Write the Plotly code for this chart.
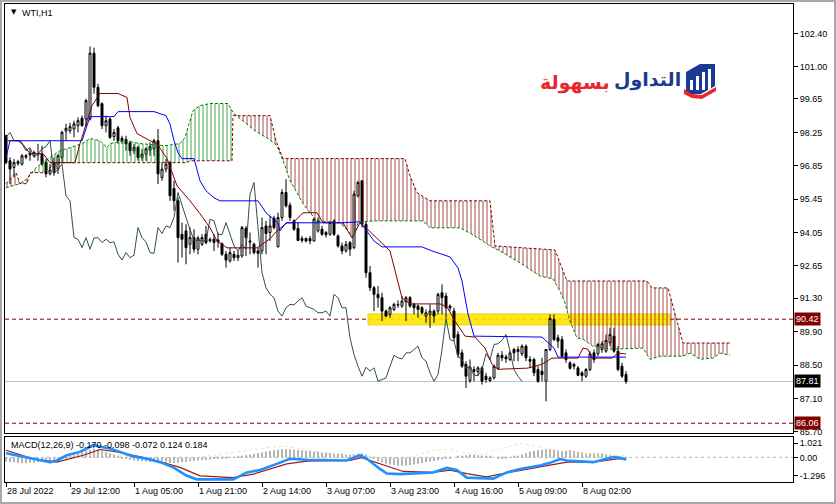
import plotly.graph_objects as go

# ---------------- data ----------------
bar_open = [98.11,97.06,96.78,96.95,96.92,97.27,97.30,97.27,97.34,97.34,96.99,96.51,96.99,96.71,97.20,98.30,98.32,98.39,98.53,98.84,
            98.81,98.81,101.57,100.14,99.45,98.53,98.81,98.07,98.44,98.00,97.95,97.81,97.48,97.62,97.20,97.34,97.51,97.56,97.90,96.36,
            96.71,96.99,95.90,95.38,93.98,94.12,93.56,93.84,93.35,93.56,93.98,93.70,93.77,93.74,93.59,93.14,92.86,93.14,93.00,93.07,
            94.22,93.70,93.56,93.28,93.28,94.33,94.05,94.65,93.46,94.68,95.73,95.20,94.54,94.22,93.80,93.80,93.80,93.70,94.12,94.19,
            94.05,93.98,94.54,93.91,93.49,93.28,93.63,93.42,95.59,96.22,94.40,92.37,91.74,91.46,91.32,90.76,90.62,90.83,91.04,90.97,
            91.15,91.32,91.04,90.97,90.90,90.55,90.62,90.76,90.76,91.53,91.39,90.97,90.76,89.78,89.01,88.52,87.85,88.31,88.22,88.38,
            88.03,87.85,87.96,88.36,88.91,88.84,88.73,89.15,89.06,88.97,89.29,88.73,88.73,88.31,88.24,87.82,89.15,90.41,89.64,89.57,
            89.01,88.59,88.52,88.38,88.17,88.03,88.31,89.01,88.97,89.15,89.08,89.43,89.71,89.08,88.45,88.10]
bar_high = [98.15,97.20,97.13,97.10,97.34,97.34,97.56,97.48,97.77,97.69,97.13,96.92,97.20,97.34,98.32,98.61,98.65,98.74,98.88,98.95,
            99.66,101.85,101.80,100.29,99.51,98.95,98.88,98.39,98.53,98.11,98.11,97.90,97.77,97.69,97.56,97.62,97.83,97.98,98.39,96.99,
            97.13,97.06,96.22,95.52,94.47,94.40,94.26,94.19,93.91,93.98,94.33,93.84,93.98,94.05,93.63,93.28,93.42,93.28,93.28,94.33,
            94.33,94.05,93.63,93.42,94.68,94.54,94.75,94.75,94.89,95.87,96.29,95.31,94.61,94.47,93.91,93.84,93.91,94.68,94.68,94.33,
            94.12,94.54,94.61,93.98,93.63,93.70,93.70,95.80,96.22,96.25,94.54,92.65,91.81,91.81,91.53,90.83,90.97,91.11,91.21,91.39,
            91.39,91.39,91.11,91.04,90.97,90.83,91.04,90.83,91.53,91.88,91.53,91.04,90.90,89.92,89.15,88.66,88.73,88.45,88.45,88.45,
            88.17,88.03,88.52,89.01,89.08,88.94,89.08,89.22,89.29,89.36,89.36,88.87,88.80,88.45,88.80,89.15,90.62,90.62,89.78,89.71,
            89.15,88.66,88.59,88.45,88.24,88.38,89.08,89.15,89.43,89.50,89.78,90.06,90.06,89.29,88.59,88.24]
bar_low = [96.92,96.08,96.36,96.85,96.85,97.13,97.06,97.20,97.06,96.85,96.36,96.45,96.43,96.51,96.95,97.90,98.20,98.04,98.25,98.49,
           98.49,98.75,99.87,99.30,98.39,98.25,97.98,97.90,97.77,97.77,97.48,97.27,97.34,97.06,97.06,97.06,97.27,97.27,96.08,96.22,
           96.57,95.38,94.96,92.79,93.00,92.72,93.14,93.21,93.14,93.49,93.56,93.63,93.28,93.42,93.07,92.58,92.79,92.86,92.86,93.00,
           93.07,93.14,93.14,92.58,93.14,93.14,93.70,94.19,93.42,94.54,95.10,94.54,94.12,93.70,93.63,93.63,93.56,93.67,94.05,93.91,
           93.84,93.91,93.91,93.42,93.14,93.21,93.07,93.35,95.52,94.26,92.16,91.60,90.76,90.90,90.34,90.50,90.48,90.76,90.90,90.90,
           90.34,90.90,90.62,90.48,90.62,90.27,90.06,90.27,90.62,90.62,90.48,90.76,89.50,88.80,88.38,87.54,87.75,87.82,88.03,87.68,
           87.75,87.78,87.89,88.31,88.66,88.59,88.66,88.66,88.66,88.87,88.66,88.38,88.03,87.75,87.82,86.98,89.08,89.50,89.22,88.80,
           88.59,88.31,88.31,88.03,87.82,87.96,88.24,88.59,88.87,89.01,89.01,89.29,89.01,88.24,87.96,87.71]
bar_close = [96.99,96.71,96.99,97.02,97.27,97.22,97.37,97.41,97.32,96.92,96.51,96.67,96.57,97.27,98.25,98.42,98.49,98.61,98.74,98.53,
             99.58,101.57,100.14,99.37,98.53,98.74,98.04,98.25,97.90,97.90,97.77,97.48,97.62,97.20,97.34,97.56,97.65,97.90,96.51,96.71,
             96.92,95.59,95.38,93.84,93.77,93.42,93.84,93.35,93.82,93.84,93.63,93.77,93.63,93.66,93.14,92.90,93.21,93.00,93.10,94.26,
             93.84,93.66,93.21,93.18,94.26,94.01,94.33,94.26,94.68,95.73,95.17,94.68,94.19,93.72,93.72,93.70,93.70,94.61,94.54,93.98,
             93.96,94.47,93.98,93.49,93.28,93.56,93.35,95.66,96.15,94.40,92.37,91.74,91.46,91.32,90.76,90.55,90.90,91.04,91.02,91.18,
             91.32,90.97,90.90,90.83,90.69,90.69,90.76,90.55,91.46,91.32,90.90,90.90,89.64,88.94,88.45,88.03,88.41,88.24,88.38,87.82,
             87.89,87.96,88.45,88.91,88.80,88.76,89.01,89.01,89.15,89.29,88.80,88.66,88.17,87.82,88.10,89.15,90.45,89.57,89.50,88.87,
             88.73,88.36,88.45,88.07,88.06,88.31,88.97,88.73,89.36,89.39,89.53,89.78,89.08,88.31,88.03,87.81]

tenkan_x = [0,3.5,6,9.25,11,17.25,18.5,21.5,23.5,28,30.25,31,32.75,36,37.75,40.25,42.75,46,48.5,51,52.75,55.25,62.75,66,67.75,
            70.25,71.75,74.25,77.75,79.25,84.25,86.5,88.5,90.25,96,99,101,108.5,110.25,112.25,114.75,117.25,119.75,121.5,123,130.5,
            134,136.5,143,144.25,145.5,146.5,151.5,153,155]
tenkan_y = [97.90,97.90,97.36,97.36,96.98,96.98,97.78,99.37,99.88,99.88,99.71,98.87,98.20,97.90,97.78,97.15,96.01,95.38,94.84,94.25,
            93.70,93.41,93.41,93.79,94.12,94.46,94.46,94.88,94.88,94.46,94.46,93.83,94.46,94.21,93.28,91.31,91.06,91.06,90.93,90.34,
            89.71,89.67,89.21,88.53,88.32,88.37,88.53,88.79,88.79,89.21,89.16,88.79,88.79,89.00,88.96]
kijun_x = [0,1,19,21,27,28,37,40,41,42,43,44,47,48.5,50,52,53.5,63,65,68,68.5,70,84,88.5,92,94,104,106.5,111,113,114,115.5,117,
           134,137,138,155]
kijun_y = [97.19,97.90,97.90,98.91,98.91,99.12,99.12,98.95,98.60,97.90,97.40,97.15,97.15,96.22,95.80,95.51,95.38,95.38,94.88,94.46,
           94.12,94.46,94.46,94.50,93.70,93.45,93.45,93.28,93.03,92.57,92.02,90.64,89.71,89.67,89.21,88.83,88.83]
spanA_x = [0,3.5,5.25,7.25,9.75,13.5,16,19,21,23.5,25.25,26,29.75,33.5,39.75,43.5,44.75,46.75,48.5,51,55.5,56.75,58.5,62.25,65.5,
           67.75,69.75,71,72.75,74.25,76,77.75,83.5,85.5,86.75,88,91.75,104.25,106,113.5,117.25,121,123.5,128.5,133.5,136.75,138.5,
           139.75,141,142.75,144.25,146.75,151,159.25,161,163.5,169.25,171,173.5,176.75,178.5,181]
spanA_y = [95.93,96.10,96.31,96.73,97.06,97.48,97.61,97.78,97.99,97.90,97.61,97.78,97.90,97.78,97.69,97.78,98.03,99.16,99.37,99.46,
           99.46,99.08,98.83,98.32,97.99,97.69,96.85,96.22,95.72,95.26,94.88,94.54,94.46,94.12,93.83,94.46,94.54,94.54,94.25,94.25,
           93.91,93.49,93.28,92.78,92.23,92.11,91.60,91.10,90.34,89.63,89.58,89.29,89.16,89.21,88.74,88.87,88.87,89.00,88.74,88.79,
           89.00,88.91]
spanB_x = [0,2.5,3.5,5.25,6,9.25,11,13.5,45.25,46,56.5,56.75,66,67.5,69.25,99.75,101,102.75,104.75,106,121,122.25,137.25,138.5,
           140.25,160.25,161.5,165.5,167.75,169.25,181]
spanB_y = [96.10,96.56,96.10,96.10,96.56,96.56,96.77,96.98,96.98,97.06,97.06,98.95,98.95,97.90,97.15,97.15,96.43,95.72,95.51,95.38,
           95.38,93.49,93.32,92.74,92.02,92.02,91.73,91.73,90.34,89.42,89.42]
cloud_breaks = [0, 5.25, 56.75, 181]
cloud_bullish = [False, True, False]
chikou_shift = 26

macd_x = [0,3.5,6.8,11,12.7,15.2,18.5,20.2,21.8,23.5,26,28.5,31.8,35.2,38.5,41.8,45.2,47.7,56.8,60.2,63.5,67.7,71,75.2,81.8,85.2,
          88.5,90.2,93.5,95.2,98.5,106.8,110.2,112.7,115.2,121.8,125.2,128.5,133.5,136,138.5,140.2,146.8,150.2,151.8,153.5,155]
macd_y = [0.29,0.07,-0.10,-0.34,-0.22,0.15,0.39,0.63,0.88,0.75,0.63,0.39,0.07,-0.10,-0.34,-0.71,-1.31,-1.56,-1.56,-1.07,-0.90,
          -0.46,-0.10,-0.17,-0.22,-0.22,0.15,-0.10,-0.82,-1.15,-1.19,-1.07,-0.75,-0.90,-1.44,-1.51,-1.07,-0.82,-0.58,-0.39,-0.12,
          -0.22,-0.34,-0.10,0.02,-0.02,-0.17]
signal_x = [0,6.8,12.7,19.3,23.5,27.7,36,43.5,48.5,56.8,61.8,70.2,75.2,86,88.9,93.5,99.3,106.8,111,115.2,120.2,123.5,131.8,134.3,
            140.2,146.8,152.7,155]
signal_y = [0.51,-0.10,-0.34,0.15,0.56,0.39,-0.10,-0.71,-1.31,-1.44,-1.19,-0.46,-0.27,-0.22,-0.02,-0.46,-1.00,-1.07,-0.90,-1.15,
            -1.39,-1.19,-0.75,-0.66,-0.34,-0.34,-0.10,-0.10]
extra_x = [0,12,24,32,40,50,57,63,69,74,80,90,98,107,111,115,119,124,129,134,139,145,150,155]
extra_y = [0.30,-0.35,0.30,0.05,-0.30,0.10,0.40,0.60,0.80,0.60,0.30,0.10,-0.20,0.50,0.60,0.30,0.20,0.65,1.00,0.70,0.40,0.20,0.20,0.12]
hist_y = [-0.30,-0.32,-0.35,-0.38,-0.40,-0.42,-0.40,-0.38,-0.35,-0.33,-0.30,-0.28,-0.25,-0.20,-0.12,-0.05,
          0.05,0.15,0.25,0.35,0.45,0.55,0.62,0.60,0.50,0.40,0.30,0.20,
          0.05,-0.05,-0.12,-0.18,-0.22,-0.25,-0.28,-0.30,-0.32,-0.33,-0.35,-0.36,-0.38,-0.40,-0.40,-0.38,-0.35,-0.32,
          -0.28,-0.25,-0.22,-0.20,-0.18,-0.15,-0.12,-0.10,-0.08,-0.05,-0.02,0.02,0.05,0.10,0.15,
          0.20,0.25,0.30,0.35,0.40,0.45,0.50,0.55,0.58,0.60,0.58,0.55,0.52,0.50,0.48,0.45,0.42,0.40,0.38,0.35,0.32,0.30,0.28,0.25,0.22,
          0.20,0.22,0.25,0.30,0.20,
          0.05,-0.10,-0.25,-0.35,-0.45,-0.50,-0.55,-0.58,-0.60,-0.58,-0.55,-0.50,-0.45,-0.40,-0.35,
          -0.30,-0.25,-0.20,-0.15,-0.10,-0.05,0.00,
          0.05,0.10,0.15,0.20,0.18,0.15,0.12,0.10,
          0.05,0.00,-0.05,-0.08,-0.05,0.00,0.05,0.10,
          0.20,0.30,0.40,0.45,0.50,0.55,0.58,0.60,0.55,0.50,0.45,0.48,0.50,
          0.45,0.40,0.35,0.30,0.28,0.30,0.32,0.28,0.22,
          0.15,0.10,0.05,-0.02,-0.07]

time_tick_bars = [0, 16, 32, 48, 64, 80, 96, 112, 128, 144]
time_tick_labels = ["28 Jul 2022", "29 Jul 12:00", "1 Aug 05:00", "1 Aug 21:00", "2 Aug 14:00",
                    "3 Aug 07:00", "3 Aug 23:00", "4 Aug 16:00", "5 Aug 09:00", "8 Aug 02:00"]
price_ticks = [102.40, 101.00, 99.65, 98.25, 96.85, 95.45, 94.05, 92.65, 91.30, 89.90, 88.50, 87.10, 85.70]
macd_ticks = [1.021, 0.0, -1.296]
macd_tick_labels = ["1.021", "0.00", "-1.296"]
level_upper = 90.42
level_lower = 86.06
last_price = 87.81
zone_start, zone_end = 90.5, 166
zone_low, zone_high = 90.18, 90.64
macd_title = "MACD(12,26,9) -0.170 -0.098 -0.072 0.124 0.184"
symbol_title = "WTI,H1"
logo_blue = "التداول"
logo_red = "بسهولة"

# ---------------- styling / geometry ----------------
W, H = 836, 504
ML, MR, MT, MB = 5, 43, 4, 22
PW, PH = W - ML - MR, H - MT - MB
MAROON = "#800000"
GREEN = "#008000"
FONT = "Liberation Sans"


def fx(px):
    return (px - ML) / PW


def fy(py):
    return (H - MB - py) / PH


main_dom = [fy(433), 1.0]
macd_dom = [0.0, fy(436.7)]
bars = list(range(len(bar_close)))

fig = go.Figure()

# Ichimoku cloud (hatched)
for k in range(len(cloud_bullish)):
    lo, hi = cloud_breaks[k], cloud_breaks[k + 1]
    ax = [x for x in spanA_x if lo <= x <= hi]
    ay = [y for x, y in zip(spanA_x, spanA_y) if lo <= x <= hi]
    bx = [x for x in spanB_x if lo <= x <= hi][::-1]
    by = [y for x, y in zip(spanB_x, spanB_y) if lo <= x <= hi][::-1]
    col = GREEN if cloud_bullish[k] else MAROON
    fig.add_trace(go.Scatter(
        x=ax + bx, y=ay + by, mode="none", fill="toself",
        fillcolor="rgba(0,0,0,0)",
        fillpattern=dict(shape="|", fgcolor=col, bgcolor="rgba(0,0,0,0)",
                         size=4, solidity=0.25, fgopacity=0.7),
        hoverinfo="skip", xaxis="x", yaxis="y"))

fig.add_trace(go.Scatter(x=spanA_x, y=spanA_y, mode="lines",
                         line=dict(color=GREEN, width=1, dash="3px,2px"),
                         hoverinfo="skip", xaxis="x", yaxis="y"))
fig.add_trace(go.Scatter(x=spanB_x, y=spanB_y, mode="lines",
                         line=dict(color=MAROON, width=1, dash="3px,2px"),
                         hoverinfo="skip", xaxis="x", yaxis="y"))

# candles
fig.add_trace(go.Candlestick(
    x=bars, open=bar_open, high=bar_high, low=bar_low, close=bar_close,
    increasing=dict(line=dict(color="black", width=1), fillcolor="white"),
    decreasing=dict(line=dict(color="black", width=1), fillcolor="black"),
    whiskerwidth=0, hoverinfo="skip", xaxis="x", yaxis="y"))

# chikou (close shifted back), tenkan, kijun
fig.add_trace(go.Scatter(x=bars[:-chikou_shift], y=bar_close[chikou_shift:], mode="lines",
                         line=dict(color="#2F4F4F", width=1), hoverinfo="skip", xaxis="x", yaxis="y"))
fig.add_trace(go.Scatter(x=tenkan_x, y=tenkan_y, mode="lines",
                         line=dict(color=MAROON, width=1), hoverinfo="skip", xaxis="x", yaxis="y"))
fig.add_trace(go.Scatter(x=kijun_x, y=kijun_y, mode="lines",
                         line=dict(color="#0000FF", width=1), hoverinfo="skip", xaxis="x", yaxis="y"))

# MACD panel
fig.add_trace(go.Bar(x=list(range(len(hist_y))), y=hist_y, width=0.5,
                     marker=dict(color="#B4B4B4", line=dict(width=0)),
                     hoverinfo="skip", xaxis="x2", yaxis="y2"))
fig.add_trace(go.Scatter(x=extra_x, y=extra_y, mode="lines",
                         line=dict(color="#EFE8A8", width=1, dash="dot"),
                         hoverinfo="skip", xaxis="x2", yaxis="y2"))
fig.add_trace(go.Scatter(x=signal_x, y=signal_y, mode="lines",
                         line=dict(color="#9B1B1B", width=1.2),
                         hoverinfo="skip", xaxis="x2", yaxis="y2"))
fig.add_trace(go.Scatter(x=macd_x, y=macd_y, mode="lines",
                         line=dict(color="#1E90FF", width=2.6),
                         hoverinfo="skip", xaxis="x2", yaxis="y2"))

xr = [-0.25, 196.75]
shapes = [
    dict(type="rect", xref="x", yref="y", x0=zone_start, x1=zone_end, y0=zone_low, y1=zone_high,
         fillcolor="#FFE600", opacity=0.9, line=dict(color="#EBCB00", width=1), layer="below"),
    dict(type="line", xref="paper", yref="y", x0=0, x1=1, y0=level_upper, y1=level_upper,
         line=dict(color=MAROON, width=1, dash="4px,3px"), layer="below"),
    dict(type="line", xref="paper", yref="y", x0=0, x1=1, y0=level_lower, y1=level_lower,
         line=dict(color=MAROON, width=1, dash="4px,3px"), layer="below"),
    dict(type="line", xref="paper", yref="y", x0=0, x1=1, y0=last_price, y1=last_price,
         line=dict(color="#C0C0C0", width=1), layer="below"),
    dict(type="line", xref="paper", yref="y2", x0=0, x1=1, y0=0, y1=0,
         line=dict(color="#B8B8B8", width=1, dash="3px,3px"), layer="below"),
    # window frame
    dict(type="rect", xref="paper", yref="paper", x0=fx(0), x1=fx(W), y0=fy(H), y1=fy(0),
         line=dict(color="#A8A8A8", width=4), fillcolor="rgba(0,0,0,0)"),
]

# logo icon (decoration)
def path(pts, close=True):
    s = "M " + " L ".join(f"{fx(a):.5f},{fy(b):.5f}" for a, b in pts)
    return s + (" Z" if close else "")

shapes.append(dict(type="path", xref="paper", yref="paper",
                   path=path([(686, 72), (700, 64), (715, 64), (715, 86), (701, 94), (686, 94)]),
                   fillcolor="#1B3A94", line=dict(width=0)))
for (x0, yt) in [(690, 80), (696, 76), (702, 72), (708, 69)]:
    shapes.append(dict(type="rect", xref="paper", yref="paper", x0=fx(x0), x1=fx(x0 + 3),
                       y0=fy(90), y1=fy(yt), fillcolor="white", line=dict(width=0)))
shapes.append(dict(type="path", xref="paper", yref="paper",
                   path=path([(684, 89), (692, 94), (702, 95), (716, 87), (716, 91), (702, 99), (692, 98), (684, 94)]),
                   fillcolor="#E8262B", line=dict(width=0)))

annotations = [
    dict(xref="paper", yref="paper", x=fx(9), y=fy(12), text="▼", showarrow=False,
         xanchor="left", yanchor="middle", font=dict(size=7, color="black", family="DejaVu Sans")),
    dict(xref="paper", yref="paper", x=fx(20), y=fy(12.5), text=symbol_title, showarrow=False,
         xanchor="left", yanchor="middle", font=dict(size=9, color="black", family=FONT)),
    dict(xref="paper", yref="paper", x=fx(9), y=fy(444.5), text=macd_title, showarrow=False,
         xanchor="left", yanchor="middle", font=dict(size=9, color="black", family=FONT)),
    dict(xref="paper", yref="paper", x=fx(683), y=fy(80), text="<b>" + logo_blue + "</b>", showarrow=False,
         xanchor="right", yanchor="middle", font=dict(size=19, color="#1B3A94", family="DejaVu Sans")),
    dict(xref="paper", yref="paper", x=fx(612), y=fy(82), text="<b>" + logo_red + "</b>", showarrow=False,
         xanchor="right", yanchor="middle", font=dict(size=19, color="#E8262B", family="DejaVu Sans")),
]
for val, bg in [(level_upper, MAROON), (last_price, "black"), (level_lower, MAROON)]:
    annotations.append(dict(xref="paper", yref="y", x=1, y=val, text=f"{val:.2f}", showarrow=False,
                            xanchor="left", yanchor="middle", xshift=1, bgcolor=bg, borderpad=1,
                            font=dict(size=9, color="white", family=FONT)))

fig.update_layout(
    width=W, height=H, margin=dict(l=ML, r=MR, t=MT, b=MB),
    paper_bgcolor="white", plot_bgcolor="white", showlegend=False,
    font=dict(family=FONT, size=9, color="black"),
    barmode="overlay",
    xaxis=dict(domain=[0, 1], anchor="y", range=xr, showgrid=False, zeroline=False,
               showline=True, mirror=True, linecolor="black", linewidth=1,
               showticklabels=False, ticks="", rangeslider=dict(visible=False), fixedrange=True),
    yaxis=dict(domain=main_dom, anchor="x", side="right", range=[85.65, 103.63],
               showgrid=False, zeroline=False, showline=True, mirror=True, linecolor="black", linewidth=1,
               ticks="outside", ticklen=4, tickcolor="black", tickvals=price_ticks,
               ticktext=[f"{v:.2f}" for v in price_ticks], tickfont=dict(size=9, family=FONT)),
    xaxis2=dict(domain=[0, 1], anchor="y2", range=xr, matches="x", showgrid=False, zeroline=False,
                showline=True, mirror=True, linecolor="black", linewidth=1,
                ticks="outside", ticklen=4, tickcolor="black", tickvals=time_tick_bars,
                ticktext=time_tick_labels, ticklabelposition="outside right",
                tickfont=dict(size=9, family=FONT)),
    yaxis2=dict(domain=macd_dom, anchor="x2", side="right", range=[-1.75, 1.47],
                showgrid=False, zeroline=False, showline=True, mirror=True, linecolor="black", linewidth=1,
                ticks="outside", ticklen=4, tickcolor="black", tickvals=macd_ticks,
                ticktext=macd_tick_labels, tickfont=dict(size=9, family=FONT)),
    shapes=shapes, annotations=annotations,
)

fig.write_html("out.html", config={"displayModeBar": False},
               post_script="document.body.style.margin='0px';document.body.style.overflow='hidden';")
